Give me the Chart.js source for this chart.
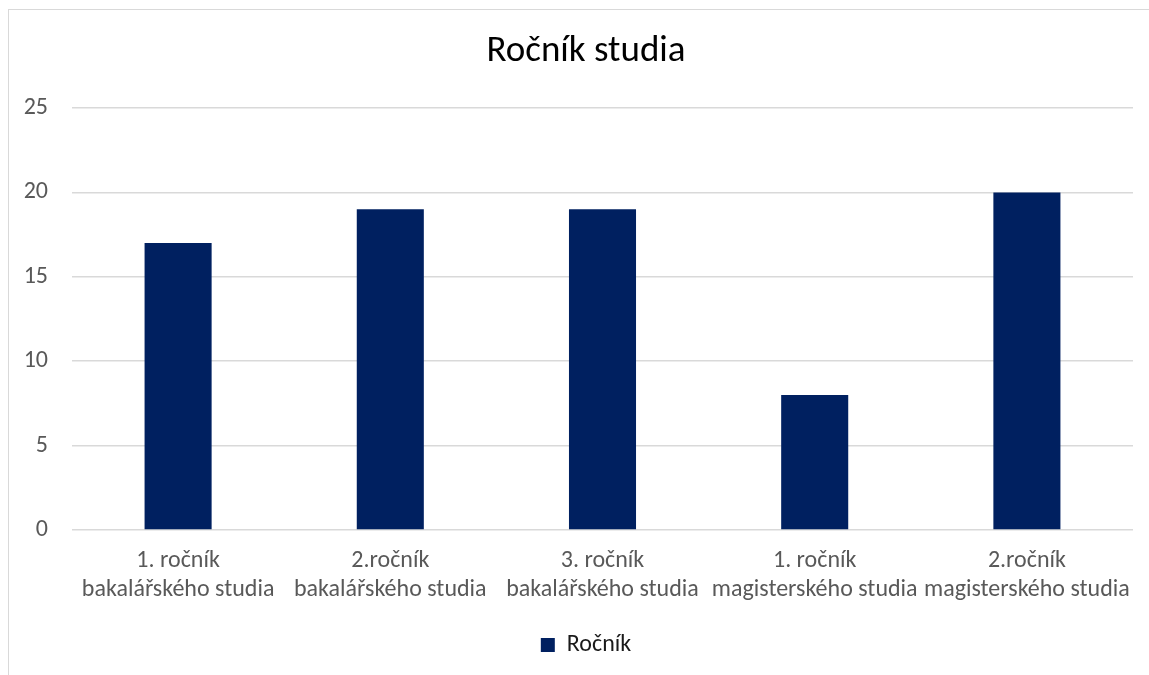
<!DOCTYPE html>
<html>
<head>
<meta charset="utf-8">
<script src="https://cdn.jsdelivr.net/npm/chart.js@4"></script>
<style>
    html, body { margin: 0; padding: 0; background: #fff; overflow: hidden; }
    #frame {
        position: absolute; left: 8px; top: 9px; width: 1160px; height: 690px;
        border: 1px solid #d9d9d9; box-sizing: border-box;
    }
    /* the original chart is wider than the screenshot, so the canvas runs past the right edge */
    #wrap { position: absolute; left: 0; top: 0; width: 1180px; height: 675px; }
</style>
</head>
<body>
<div id="frame"></div>
<div id="wrap"><canvas id="chart"></canvas></div>
<script>
/* ── DATA ─────────────────────────────────── */
const categories = [
    ['1. ročník', 'bakalářského studia'],
    ['2.ročník', 'bakalářského studia'],
    ['3. ročník', 'bakalářského studia'],
    ['1. ročník', 'magisterského studia'],
    ['2.ročník', 'magisterského studia']
];
const values = [17, 19, 19, 8, 20];
const seriesName = 'Ročník';
const titleText = 'Ročník studia';
const yTicks = [0, 5, 10, 15, 20, 25];

/* ── CHART ────────────────────────────────── */
const font = '"Carlito", "Lato", "Open Sans", sans-serif';
const navy = '#002060';

new Chart(document.getElementById('chart'), {
    type: 'bar',
    data: {
        labels: categories,
        datasets: [{
            label: seriesName,
            data: values,
            backgroundColor: navy,
            borderWidth: 0,
            barPercentage: 0.316,
            categoryPercentage: 1
        }]
    },
    options: {
        responsive: true,
        maintainAspectRatio: false,
        animation: false,
        layout: { padding: { left: 0, right: 8, top: 30, bottom: 8 } },
        plugins: {
            title: {
                display: true,
                text: titleText,
                color: '#000',
                font: { family: font, size: 37, weight: 'normal' },
                padding: { top: 0, bottom: 33.6 }
            },
            legend: {
                position: 'bottom',
                labels: {
                    color: '#1a1a1a',
                    font: { family: font, size: 24 },
                    boxWidth: 14,
                    boxHeight: 14,
                    padding: 10
                }
            },
            tooltip: { enabled: false }
        },
        scales: {
            x: {
                afterFit: s => { s.height = 93; },
                grid: { display: false, drawTicks: false },
                border: { display: false },
                ticks: {
                    color: '#595959',
                    font: { family: font, size: 24, lineHeight: 1.2 },
                    maxRotation: 0,
                    autoSkip: false,
                    padding: 17
                }
            },
            y: {
                min: 0,
                max: 25,
                afterBuildTicks: s => { s.ticks = yTicks.map(v => ({ value: v })); },
                afterFit: s => { s.width = 72; },
                grid: { color: '#d9d9d9', lineWidth: 1.5, drawTicks: false },
                border: { display: false },
                ticks: {
                    color: '#595959',
                    font: { family: font, size: 24 },
                    padding: 24
                }
            },
            // empty right-hand spacer so the plot ends at the same place as the reference
            spacer: {
                position: 'right',
                afterFit: s => { s.width = 39; },
                grid: { display: false, drawTicks: false },
                border: { display: false },
                ticks: { display: false }
            }
        }
    }
});
</script>
</body>
</html>
